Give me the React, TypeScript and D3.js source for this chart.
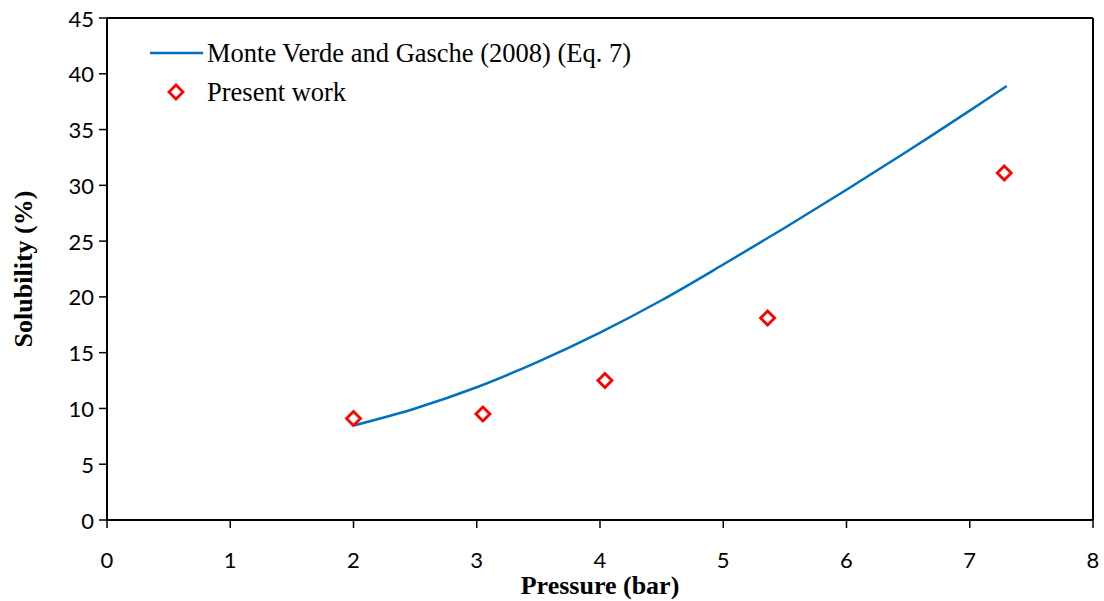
import React from "react";
import * as d3 from "d3";

// Monte Verde and Gasche (2008) (Eq. 7) curve
const modelPressure = [2.01, 2.5, 3.0, 3.5, 4.0, 4.5, 5.0, 5.5, 6.0, 6.5, 7.0, 7.3];
const modelSolubility = [8.5, 10.0, 11.9, 14.2, 16.8, 19.7, 22.9, 26.2, 29.6, 33.1, 36.7, 38.9];

// Present work
const expPressure = [2.0, 3.05, 4.04, 5.36, 7.28];
const expSolubility = [9.1, 9.5, 12.5, 18.1, 31.1];

const xTicks = [0, 1, 2, 3, 4, 5, 6, 7, 8];
const yTicks = [0, 5, 10, 15, 20, 25, 30, 35, 40, 45];

const legendLabels = ["Monte Verde and Gasche (2008) (Eq. 7)", "Present work"];

const W = 1104;
const H = 601;
const margin = { top: 18, right: 11, bottom: 81, left: 107 };

const tickFont = "Lato, 'Open Sans', sans-serif";
const serif = "'Liberation Serif', 'Times New Roman', serif";

const App: React.FC = () => {
  const x = d3.scaleLinear().domain([0, 8]).range([margin.left, W - margin.right]);
  const y = d3.scaleLinear().domain([0, 45]).range([H - margin.bottom, margin.top]);

  const line = d3
    .line<number>()
    .x((_, i) => x(modelPressure[i]))
    .y((d) => y(d))
    .curve(d3.curveCatmullRom.alpha(0.5));

  const diamond = (cx: number, cy: number, r = 7) =>
    `M${cx},${cy - r}L${cx + r},${cy}L${cx},${cy + r}L${cx - r},${cy}Z`;

  const x0 = x(0);
  const x8 = x(8);
  const y0 = y(0);
  const y45 = y(45);

  return (
    <svg
      width={W}
      height={H}
      style={{ position: "absolute", left: 0, top: 0, background: "#fff" }}
    >
      {/* plot frame */}
      <line x1={x0} x2={x8} y1={y45} y2={y45} stroke="#000" strokeWidth={2} />
      <line x1={x8} x2={x8} y1={y45} y2={y0} stroke="#000" strokeWidth={2} />
      <line x1={x0} x2={x8} y1={y0} y2={y0} stroke="#000" strokeWidth={2} />
      <line x1={x0} x2={x0} y1={y45} y2={y0} stroke="#000" strokeWidth={2} />

      {/* y ticks */}
      {yTicks.map((t) => (
        <g key={"y" + t}>
          <line x1={x0 - 8} x2={x0} y1={y(t)} y2={y(t)} stroke="#000" strokeWidth={1.5} />
          <text
            x={x0 - 13}
            y={y(t)}
            textAnchor="end"
            dominantBaseline="central"
            fontFamily={tickFont}
            fontSize={22}
            fill="#000"
          >
            {t}
          </text>
        </g>
      ))}

      {/* x ticks */}
      {xTicks.map((t) => (
        <g key={"x" + t}>
          <line x1={x(t)} x2={x(t)} y1={y0} y2={y0 + 8} stroke="#000" strokeWidth={1.5} />
          <text
            x={x(t)}
            y={y0 + 48}
            textAnchor="middle"
            fontFamily={tickFont}
            fontSize={22}
            fill="#000"
          >
            {t}
          </text>
        </g>
      ))}

      {/* model curve */}
      <path d={line(modelSolubility) || ""} fill="none" stroke="#0070C0" strokeWidth={2.5} />

      {/* experimental points */}
      {expSolubility.map((v, i) => (
        <path
          key={"p" + i}
          d={diamond(x(expPressure[i]), y(v))}
          fill="#fff"
          stroke="#FF0000"
          strokeWidth={2.8}
        />
      ))}

      {/* legend */}
      <line x1={150} x2={203} y1={53} y2={53} stroke="#0070C0" strokeWidth={2.5} />
      <text x={207} y={62} fontFamily={serif} fontSize={26.5} fill="#000">
        {legendLabels[0]}
      </text>
      <path d={diamond(176, 92)} fill="#fff" stroke="#FF0000" strokeWidth={2.8} />
      <text x={207} y={101} fontFamily={serif} fontSize={26.5} fill="#000">
        {legendLabels[1]}
      </text>

      {/* axis titles */}
      <text
        x={600}
        y={594}
        textAnchor="middle"
        fontFamily={serif}
        fontSize={26}
        fontWeight="bold"
        fill="#000"
      >
        Pressure (bar)
      </text>
      <text
        transform={`translate(32,${(y0 + y45) / 2}) rotate(-90)`}
        textAnchor="middle"
        fontFamily={serif}
        fontSize={26}
        fontWeight="bold"
        fill="#000"
      >
        Solubility (%)
      </text>
    </svg>
  );
};

export default App;
